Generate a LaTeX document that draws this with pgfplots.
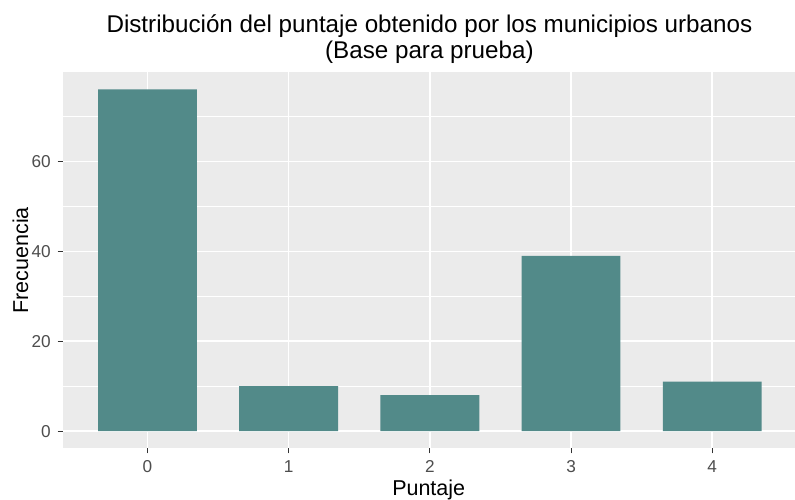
\documentclass[border=0pt]{standalone}
\usepackage{pgfplots}
\pgfplotsset{compat=1.18}
\usepackage{fontspec}
\setmainfont{Liberation Sans}
\definecolor{barcol}{RGB}{82,138,137}
\definecolor{panel}{RGB}{235,235,235}
\definecolor{tickcol}{RGB}{51,51,51}
\definecolor{ticklab}{RGB}{77,77,77}
\begin{document}
\begin{tikzpicture}
\path[use as bounding box] (0,0) rectangle (397.5pt,249.5pt);
\begin{axis}[
  at={(31.35pt,25.35pt)}, anchor=south west,
  scale only axis, width=366.15pt, height=188pt,
  xmin=-0.6, xmax=4.586, ymin=-3.8, ymax=79.8,
  axis background/.style={fill=panel},
  axis line style={draw=none},
  xtick={0,1,2,3,4}, ytick={0,20,40,60}, minor ytick={10,30,50,70},
  grid=both,
  major grid style={white, line width=0.8pt},
  minor grid style={white, line width=0.4pt},
  tick align=outside, xtick pos=bottom, ytick pos=left,
  major tick length=2.5pt, minor tick length=0pt,
  tick style={tickcol, line width=0.5pt},
  ticklabel style={font=\fontsize{8.6}{10}\selectfont, text=ticklab},
  /pgf/number format/assume math mode=true,
  clip=false,
]
\addplot[ybar, bar width=0.7, fill=barcol, draw=none] coordinates {(0,76) (1,10) (2,8) (3,39) (4,11)};
\end{axis}
\node[anchor=base, font=\fontsize{12.1}{13}\selectfont] at (214.7pt,233.35pt) {Distribución del puntaje obtenido por los municipios urbanos};
\node[anchor=base, font=\fontsize{12.1}{13}\selectfont] at (214.7pt,220.35pt) {(Base para prueba)};
\node[rotate=90, anchor=base, font=\fontsize{10.75}{12}\selectfont] at (14pt,119.35pt) {Frecuencia};
\node[anchor=base, font=\fontsize{10.75}{12}\selectfont] at (214.35pt,2pt) {Puntaje};
\end{tikzpicture}
\end{document}
